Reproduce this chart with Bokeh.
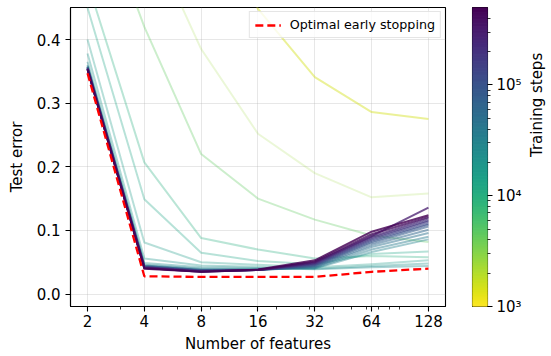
import math
import numpy as np
from bokeh.plotting import figure
from bokeh.layouts import row
from bokeh.models import (FixedTicker, PrintfTickFormatter, CustomJSTickFormatter,
                          Legend, LegendItem, Range1d)
from bokeh.palettes import Viridis256
from bokeh.embed import file_html
from bokeh.resources import INLINE

# ---------------- data ----------------
features = [2, 4, 8, 16, 32, 64, 128]
x_minor = [3, 5, 6, 7, 9, 20, 30, 40, 50, 60, 70, 80, 90]
y_ticks = [0.0, 0.1, 0.2, 0.3, 0.4]

steps = [1500, 2500, 4500, 10000, 13000, 16000, 20000, 25000, 32000, 40000, 50000,
         63000, 80000, 100000, 126000, 160000, 200000, 250000, 316000, 400000, 500000]

err_1500 = [0.82, 0.74, 0.62, 0.448, 0.341, 0.286, 0.275]
err_2500 = [0.72, 0.58, 0.385, 0.252, 0.190, 0.152, 0.158]
err_4500 = [0.66, 0.42, 0.220, 0.150, 0.117, 0.092, 0.082]
err_10000 = [0.49, 0.207, 0.088, 0.070, 0.056, 0.060, 0.058]
err_13000 = [0.45, 0.149, 0.065, 0.052, 0.047, 0.063, 0.067]
err_16000 = [0.40, 0.081, 0.050, 0.046, 0.042, 0.047, 0.053]
err_20000 = [0.378, 0.056, 0.045, 0.043, 0.040, 0.044, 0.048]
err_25000 = [0.365, 0.049, 0.042, 0.041, 0.039, 0.042, 0.044]
err_32000 = [0.360, 0.046, 0.040, 0.040, 0.040, 0.066, 0.086]
err_40000 = [0.358, 0.045, 0.039, 0.039, 0.041, 0.070, 0.090]
err_50000 = [0.357, 0.044, 0.038, 0.038, 0.042, 0.074, 0.096]
err_63000 = [0.357, 0.044, 0.038, 0.038, 0.043, 0.077, 0.101]
err_80000 = [0.356, 0.043, 0.037, 0.038, 0.044, 0.080, 0.106]
err_100000 = [0.356, 0.043, 0.037, 0.038, 0.045, 0.082, 0.109]
err_126000 = [0.355, 0.042, 0.037, 0.038, 0.046, 0.084, 0.111]
err_160000 = [0.355, 0.042, 0.036, 0.038, 0.047, 0.086, 0.114]
err_200000 = [0.354, 0.042, 0.036, 0.038, 0.048, 0.088, 0.116]
err_250000 = [0.354, 0.041, 0.036, 0.038, 0.049, 0.090, 0.119]
err_316000 = [0.354, 0.041, 0.035, 0.038, 0.050, 0.091, 0.136]
err_400000 = [0.353, 0.041, 0.035, 0.038, 0.051, 0.094, 0.121]
err_500000 = [0.353, 0.040, 0.035, 0.0385, 0.053, 0.098, 0.124]

optimal = [0.347, 0.028, 0.027, 0.027, 0.027, 0.035, 0.040]

cbar_min, cbar_max = 1e3, 5e5
cbar_ticks = [1e3, 1e4, 1e5]
cbar_minor = [2e3, 3e3, 4e3, 5e3, 6e3, 7e3, 8e3, 9e3,
              2e4, 3e4, 4e4, 5e4, 6e4, 7e4, 8e4, 9e4,
              2e5, 3e5, 4e5]

series = [err_1500, err_2500, err_4500, err_10000, err_13000, err_16000, err_20000,
          err_25000, err_32000, err_40000, err_50000, err_63000, err_80000, err_100000,
          err_126000, err_160000, err_200000, err_250000, err_316000, err_400000, err_500000]

FONT = "DejaVu Sans"
lmin, lmax = math.log10(cbar_min), math.log10(cbar_max)


def color_for(s):
    t = (math.log10(s) - lmin) / (lmax - lmin)
    t = min(max(t, 0.0), 1.0)
    return Viridis256[int(round((1 - t) * 255))], t


# ---------------- main figure ----------------
H = 356
p = figure(frame_width=375, height=H, x_axis_type="log",
           x_range=Range1d(1.625, 157.6), y_range=Range1d(-0.0195, 0.4503),
           output_backend="svg", toolbar_location=None,
           min_border_left=70, min_border_right=17, min_border_top=7, min_border_bottom=50)

p.outline_line_color = "black"
p.outline_line_width = 1.1
p.outline_line_alpha = 1.0
p.background_fill_color = "white"
p.border_fill_color = "white"

for i, (s, e) in enumerate(zip(steps, series)):
    c, t = color_for(s)
    alpha = 0.32 if t < 0.45 else 0.32 + 0.5 * (t - 0.45) / 0.55
    if i == 0:
        alpha = 0.45
    if i == 1:
        alpha = 0.2
    p.line(features, e, line_color=c, line_alpha=alpha, line_width=2, line_join="round")

opt_r = p.line(features, optimal, line_color="red", line_width=2.3, line_dash="8 4")

p.xaxis.ticker = FixedTicker(ticks=features, minor_ticks=x_minor)
p.xaxis.major_label_overrides = {f: str(f) for f in features}
p.yaxis.ticker = FixedTicker(ticks=y_ticks)
p.yaxis.formatter = PrintfTickFormatter(format="%.1f")
p.xgrid.ticker = FixedTicker(ticks=features)
p.ygrid.ticker = FixedTicker(ticks=y_ticks)
p.grid.grid_line_color = "#b0b0b0"
p.grid.grid_line_alpha = 0.3
p.grid.grid_line_width = 1

for ax in (p.xaxis[0], p.yaxis[0]):
    ax.axis_line_color = "black"
    ax.axis_line_width = 1.1
    ax.major_tick_line_color = "black"
    ax.major_tick_line_width = 1.1
    ax.major_tick_in = 0
    ax.major_tick_out = 5
    ax.minor_tick_line_color = "black"
    ax.minor_tick_line_width = 0.8
    ax.minor_tick_in = 0
    ax.minor_tick_out = 3
    ax.major_label_text_font = FONT
    ax.major_label_text_font_size = "15px"
    ax.major_label_text_color = "black"
    ax.axis_label_text_font = FONT
    ax.axis_label_text_font_size = "15px"
    ax.axis_label_text_font_style = "normal"
    ax.axis_label_text_color = "black"

p.yaxis.minor_tick_line_color = None
p.xaxis.axis_label = "Number of features"
p.yaxis.axis_label = "Test error"
p.xaxis.major_label_standoff = 3
p.xaxis.axis_label_standoff = 5
p.yaxis.major_label_standoff = 5
p.yaxis.axis_label_standoff = 8

legend = Legend(items=[LegendItem(label="Optimal early stopping", renderers=[opt_r])],
                location="top_right")
legend.label_text_font = FONT
legend.label_text_font_size = "12.7px"
legend.label_text_color = "black"
legend.glyph_width = 26
legend.glyph_height = 14
legend.label_height = 14
legend.label_standoff = 9
legend.padding = 5
legend.margin = 4
legend.spacing = 0
legend.border_line_color = "#cccccc"
legend.border_line_width = 1
legend.background_fill_alpha = 0.8
p.add_layout(legend)

# ---------------- colorbar figure ----------------
cb = figure(frame_width=15, height=H, y_axis_type="log",
            x_range=Range1d(0, 1), y_range=Range1d(cbar_min, cbar_max),
            y_axis_location="right", output_backend="svg", toolbar_location=None,
            min_border_left=10, min_border_right=2, min_border_top=7, min_border_bottom=50)
edges = np.logspace(lmin, lmax, 257)
cols = [Viridis256[255 - i] for i in range(256)]
cb.quad(left=0, right=1, bottom=edges[:-1], top=edges[1:], fill_color=cols,
        line_color=cols, line_width=1)
cb.xaxis.visible = False
cb.grid.visible = False
cb.outline_line_color = "black"
cb.outline_line_width = 1.1
cb.outline_line_alpha = 1.0
ya = cb.yaxis[0]
ya.ticker = FixedTicker(ticks=cbar_ticks, minor_ticks=cbar_minor)
ya.formatter = CustomJSTickFormatter(code="""
const e = Math.round(Math.log10(tick));
const sup = {0:'\u2070',1:'\u00b9',2:'\u00b2',3:'\u00b3',4:'\u2074',5:'\u2075',6:'\u2076'};
return '10' + sup[e];
""")
ya.axis_line_color = None
ya.major_tick_line_color = "black"
ya.major_tick_line_width = 1.1
ya.major_tick_in = 0
ya.major_tick_out = 5
ya.minor_tick_line_color = "black"
ya.minor_tick_line_width = 0.8
ya.minor_tick_in = 0
ya.minor_tick_out = 3
ya.major_label_standoff = 4
ya.major_label_text_font = FONT
ya.major_label_text_font_size = "15px"
ya.major_label_text_color = "black"
ya.axis_label = "Training steps"
ya.axis_label_text_font = FONT
ya.axis_label_text_font_size = "15px"
ya.axis_label_text_font_style = "normal"
ya.axis_label_text_color = "black"
ya.axis_label_standoff = 12
ya.axis_label_orientation = math.pi / 2

layout = row(p, cb, spacing=0)
open("out.html", "w").write(file_html(layout, INLINE))
